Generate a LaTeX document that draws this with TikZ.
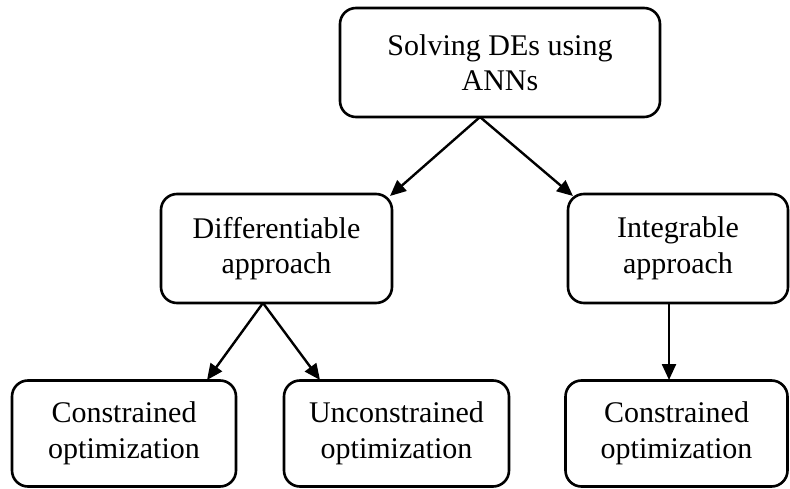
\documentclass[tikz,border=0pt]{standalone}
\usepackage{fontspec}
\setmainfont{Liberation Serif}
\usetikzlibrary{arrows.meta}
\begin{document}
\begin{tikzpicture}[x=1pt,y=-1pt,
  box/.style={draw,line width=2.6pt,rounded corners=16pt,align=center,
    font=\fontsize{30}{35.5}\selectfont,inner sep=0pt},
  arr/.style={line width=2.4pt,-{Triangle[length=16pt,width=14pt]}}]
\useasboundingbox (0,0) rectangle (790,489);
\node[box,minimum width=320pt,minimum height=109pt] (top) at (500,62.5) {Solving DEs using\\ANNs};
\node[box,minimum width=231pt,minimum height=109pt] (diff) at (276.5,248.5) {Differentiable\\approach};
\node[box,minimum width=220pt,minimum height=109pt] (integ) at (678,248.5) {Integrable\\approach};
\node[box,minimum width=224pt,minimum height=106pt] (c1) at (124,433.5) {Constrained\\optimization};
\node[box,minimum width=225pt,minimum height=106pt] (u1) at (396.5,433.5) {Unconstrained\\optimization};
\node[box,minimum width=222pt,minimum height=106pt] (c2) at (676.5,433.5) {Constrained\\optimization};
\coordinate (ts) at (480,117);
\coordinate (ds) at (263,303);
\coordinate (is) at (669,303);
\draw[arr] (ts) -- (390,196);
\draw[arr] (ts) -- (573,196);
\draw[arr] (ds) -- (207,380);
\draw[arr] (ds) -- (320,380);
\draw[arr] (is) -- (669,380);
\end{tikzpicture}
\end{document}
